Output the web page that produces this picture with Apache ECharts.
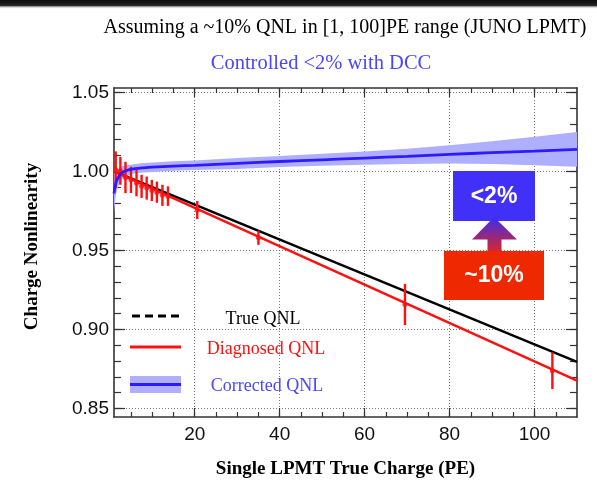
<!DOCTYPE html>
<html>
<head>
<meta charset="utf-8">
<script src="https://cdn.jsdelivr.net/npm/echarts@6/dist/echarts.min.js"></script>
<style>
  html, body { margin: 0; padding: 0; background: #ffffff; }
  #chart { width: 597px; height: 484px; }
</style>
</head>
<body>
<div id="chart"></div>
<script>
// Diagnosed QNL: mean true charge (PE), measured ratio and its uncertainty
const diagX   = [1.4, 2.5, 3.7, 5.0, 6.3, 7.5, 8.7, 9.9, 11.1, 12.4, 13.7, 20.6, 35.0, 69.5, 104.2];
const diagY   = [1.001, 1.0003, 0.9961, 0.9946, 0.9925, 0.9905, 0.9894, 0.9879, 0.9868, 0.9848, 0.9843, 0.9755, 0.958, 0.9158, 0.8739];
const diagErr = [0.0116, 0.0088, 0.0099, 0.0083, 0.0083, 0.0073, 0.0073, 0.0067, 0.0067, 0.0067, 0.0062, 0.0057, 0.0045, 0.013, 0.0116];

// Straight-line fit through the diagnosed points
const diagFitX = [1, 110];
const diagFitY = [1.0, 0.8676];

// True QNL model
const trueX = [1, 110];
const trueY = [1.0, 0.8795];

// Corrected QNL (after DCC) with its uncertainty band half-width
const corrX   = [1, 1.3, 1.6, 2, 2.5, 3, 4, 5, 6, 8, 10, 15, 20, 30, 40, 50, 60, 70, 80, 90, 100, 110];
const corrY   = [0.986, 0.991, 0.994, 0.996, 0.998, 0.9993, 1.0005, 1.0012, 1.0017, 1.0022, 1.0026, 1.0033, 1.0038, 1.0050, 1.0062, 1.0073, 1.0084, 1.0095, 1.0107, 1.0118, 1.0128, 1.0139];
const corrErr = [0.012, 0.009, 0.007, 0.0055, 0.0045, 0.004, 0.0035, 0.003, 0.003, 0.003, 0.003, 0.003, 0.003, 0.0035, 0.0035, 0.0038, 0.0042, 0.0048, 0.0058, 0.0072, 0.009, 0.011];

// Axis ticks
const xMajorTicks = [20, 40, 60, 80, 100];
const xMinorTicks = [5, 10, 15, 20, 25, 30, 35, 40, 45, 50, 55, 60, 65, 70, 75, 80, 85, 90, 95, 100, 105];
const yMajorTicks = [0.85, 0.90, 0.95, 1.00, 1.05];
const yMinorTicks = [0.85, 0.86, 0.87, 0.88, 0.89, 0.90, 0.91, 0.92, 0.93, 0.94, 0.95, 0.96, 0.97, 0.98, 0.99, 1.00, 1.01, 1.02, 1.03, 1.04, 1.05];

const X_MIN = 1, X_MAX = 110;
const Y_MIN = 0.8446, Y_MAX = 1.0527;

const FRAME = '#333333';
const GRID_LINE = { show: true, lineStyle: { color: '#777777', width: 1, type: [1, 2] } };
const TICK_FONT = { fontFamily: 'Liberation Sans', fontSize: 19, color: '#111111' };
const SERIF = 'Liberation Serif';

function xAxisDef(position, ticks, len, opts) {
  return Object.assign({
    type: 'value', position: position, min: X_MIN, max: X_MAX,
    axisLine: { show: false },
    axisTick: { show: true, inside: true, length: len, customValues: ticks,
                lineStyle: { color: FRAME, width: 1.2 } },
    axisLabel: { show: false },
    splitLine: { show: false }
  }, opts || {});
}
function yAxisDef(position, ticks, len, opts) {
  return Object.assign({
    type: 'value', position: position, min: Y_MIN, max: Y_MAX,
    axisLine: { show: false },
    axisTick: { show: true, inside: true, length: len, customValues: ticks,
                lineStyle: { color: FRAME, width: 1.2 } },
    axisLabel: { show: false },
    splitLine: { show: false }
  }, opts || {});
}

const chart = echarts.init(document.getElementById('chart'), null, { renderer: 'canvas' });

const option = {
  backgroundColor: '#ffffff',
  animation: false,
  grid: { left: 114, right: 20, top: 88, bottom: 61, containLabel: false },
  xAxis: [
    xAxisDef('bottom', xMinorTicks, 5, {
      axisLine: { show: true, onZero: false, lineStyle: { color: FRAME, width: 1.6 } },
      axisLabel: Object.assign({ show: true, margin: 8, customValues: xMajorTicks }, TICK_FONT),
      name: 'Single LPMT True Charge (PE)', nameLocation: 'middle', nameGap: 43,
      nameTextStyle: { fontFamily: SERIF, fontWeight: 'bold', fontSize: 19, color: '#000' }
    }),
    xAxisDef('bottom', xMajorTicks, 9, { splitLine: GRID_LINE }),
    xAxisDef('top', xMinorTicks, 5, {
      axisLine: { show: true, onZero: false, lineStyle: { color: FRAME, width: 1.6 } }
    }),
    xAxisDef('top', xMajorTicks, 9)
  ],
  yAxis: [
    yAxisDef('left', yMinorTicks, 7, {
      axisLine: { show: true, onZero: false, lineStyle: { color: FRAME, width: 1.6 } },
      axisLabel: Object.assign({ show: true, margin: 5, customValues: yMajorTicks,
                                 formatter: v => v.toFixed(2) }, TICK_FONT),
      name: 'Charge Nonlinearity', nameLocation: 'middle', nameGap: 72, nameRotate: 90,
      nameTextStyle: { fontFamily: SERIF, fontWeight: 'bold', fontSize: 19, color: '#000',
                       padding: [0, 0, 0, 12] }
    }),
    yAxisDef('left', yMajorTicks, 11, { splitLine: GRID_LINE }),
    yAxisDef('right', yMinorTicks, 7, {
      axisLine: { show: true, onZero: false, lineStyle: { color: FRAME, width: 1.6 } }
    }),
    yAxisDef('right', yMajorTicks, 11)
  ],
  series: [
    {
      // uncertainty band of the corrected curve
      name: 'Corrected band', type: 'custom', xAxisIndex: 0, yAxisIndex: 0,
      data: corrX.map((x, i) => [x, corrY[i], corrErr[i]]),
      encode: { x: 0, y: 1 },
      clip: true, z: 1,
      renderItem: function (params, api) {
        if (params.dataIndex !== 0) return null;
        const upper = corrX.map((x, i) => api.coord([x, corrY[i] + corrErr[i]]));
        const lower = corrX.map((x, i) => api.coord([x, corrY[i] - corrErr[i]])).reverse();
        return { type: 'polygon', shape: { points: upper.concat(lower) },
                 style: { fill: '#aeb0ff' } };
      }
    },
    {
      name: 'True QNL', type: 'line', xAxisIndex: 0, yAxisIndex: 0, z: 3,
      data: trueX.map((x, i) => [x, trueY[i]]),
      symbol: 'none', lineStyle: { color: '#000000', width: 2.5 }
    },
    {
      name: 'Diagnosed QNL', type: 'line', xAxisIndex: 0, yAxisIndex: 0, z: 4,
      data: diagFitX.map((x, i) => [x, diagFitY[i]]),
      symbol: 'none', lineStyle: { color: '#ff1010', width: 2.5 }
    },
    {
      name: 'Diagnosed errors', type: 'custom', xAxisIndex: 0, yAxisIndex: 0, z: 5,
      data: diagX.map((x, i) => [x, diagY[i], diagErr[i]]),
      encode: { x: 0, y: 1 }, clip: true,
      renderItem: function (params, api) {
        const x = api.value(0), y = api.value(1), e = api.value(2);
        const top = api.coord([x, y + e]);
        const bot = api.coord([x, y - e]);
        return { type: 'line', shape: { x1: top[0], y1: top[1], x2: bot[0], y2: bot[1] },
                 style: { stroke: '#ff1010', lineWidth: 2.4 } };
      }
    },
    {
      name: 'Diagnosed points', type: 'scatter', xAxisIndex: 0, yAxisIndex: 0, z: 6,
      data: diagX.map((x, i) => [x, diagY[i]]),
      symbol: 'circle', symbolSize: 5, itemStyle: { color: '#ff1010' }
    },
    {
      name: 'Corrected QNL', type: 'line', xAxisIndex: 0, yAxisIndex: 0, z: 7,
      data: corrX.map((x, i) => [x, corrY[i]]),
      smooth: 0.3, symbol: 'none', lineStyle: { color: '#3018ff', width: 2.8 }
    }
  ],
  graphic: [
    // dark strip along the top edge
    { type: 'rect', left: 0, top: 0, z: 100, silent: true,
      shape: { width: 597, height: 9 },
      style: { fill: new echarts.graphic.LinearGradient(0, 0, 0, 1, [
        { offset: 0, color: '#0c0c0c' }, { offset: 0.6, color: '#222222' }, { offset: 1, color: 'rgba(255,255,255,0)' }]) } },
    // headings
    { type: 'text', x: 345, y: 28, z: 100,
      style: { text: 'Assuming a ~10% QNL in [1, 100]PE range (JUNO LPMT)', fill: '#000',
               font: '20px "Liberation Serif"', textAlign: 'center', textVerticalAlign: 'middle' } },
    { type: 'text', x: 321, y: 64, z: 100,
      style: { text: 'Controlled <2% with DCC', fill: '#4a46ff',
               font: '20.5px "Liberation Serif"', textAlign: 'center', textVerticalAlign: 'middle' } },
    // legend
    { type: 'line', z: 100, shape: { x1: 132, y1: 316, x2: 182, y2: 316 },
      style: { stroke: '#000', lineWidth: 3, lineDash: [8, 5] } },
    { type: 'text', x: 263, y: 319, z: 100,
      style: { text: 'True QNL', fill: '#000', font: '18px "Liberation Serif"',
               textAlign: 'center', textVerticalAlign: 'middle' } },
    { type: 'line', z: 100, shape: { x1: 130, y1: 347, x2: 181, y2: 347 },
      style: { stroke: '#ff1010', lineWidth: 3 } },
    { type: 'text', x: 266, y: 349, z: 100,
      style: { text: 'Diagnosed QNL', fill: '#ff1010', font: '18px "Liberation Serif"',
               textAlign: 'center', textVerticalAlign: 'middle' } },
    { type: 'rect', z: 100, shape: { x: 130, y: 376, width: 51, height: 17 },
      style: { fill: '#aeb0ff' } },
    { type: 'line', z: 101, shape: { x1: 130, y1: 384.5, x2: 181, y2: 384.5 },
      style: { stroke: '#3018ff', lineWidth: 3 } },
    { type: 'text', x: 267, y: 386, z: 100,
      style: { text: 'Corrected QNL', fill: '#4a46ff', font: '18px "Liberation Serif"',
               textAlign: 'center', textVerticalAlign: 'middle' } },
    // improvement annotation
    { type: 'rect', z: 100, shape: { x: 453, y: 171, width: 82, height: 50 },
      style: { fill: '#4030f8' } },
    { type: 'text', x: 494, y: 197, z: 101,
      style: { text: '<2%', fill: '#ffffff', font: 'bold 23px "Liberation Sans"',
               textAlign: 'center', textVerticalAlign: 'middle' } },
    { type: 'polygon', z: 100,
      shape: { points: [[494, 217], [517, 239.5], [501.5, 239.5], [501.5, 251], [487.5, 251], [487.5, 239.5], [472, 239.5]] },
      style: { fill: new echarts.graphic.LinearGradient(0, 0, 0, 1, [
        { offset: 0, color: '#3a2cf0' }, { offset: 1, color: '#d4262e' }]) } },
    { type: 'rect', z: 100, shape: { x: 444, y: 251, width: 100, height: 49 },
      style: { fill: '#ee2800' } },
    { type: 'text', x: 494, y: 276, z: 101,
      style: { text: '~10%', fill: '#ffffff', font: 'bold 23px "Liberation Sans"',
               textAlign: 'center', textVerticalAlign: 'middle' } }
  ]
};

chart.setOption(option);
</script>
</body>
</html>
